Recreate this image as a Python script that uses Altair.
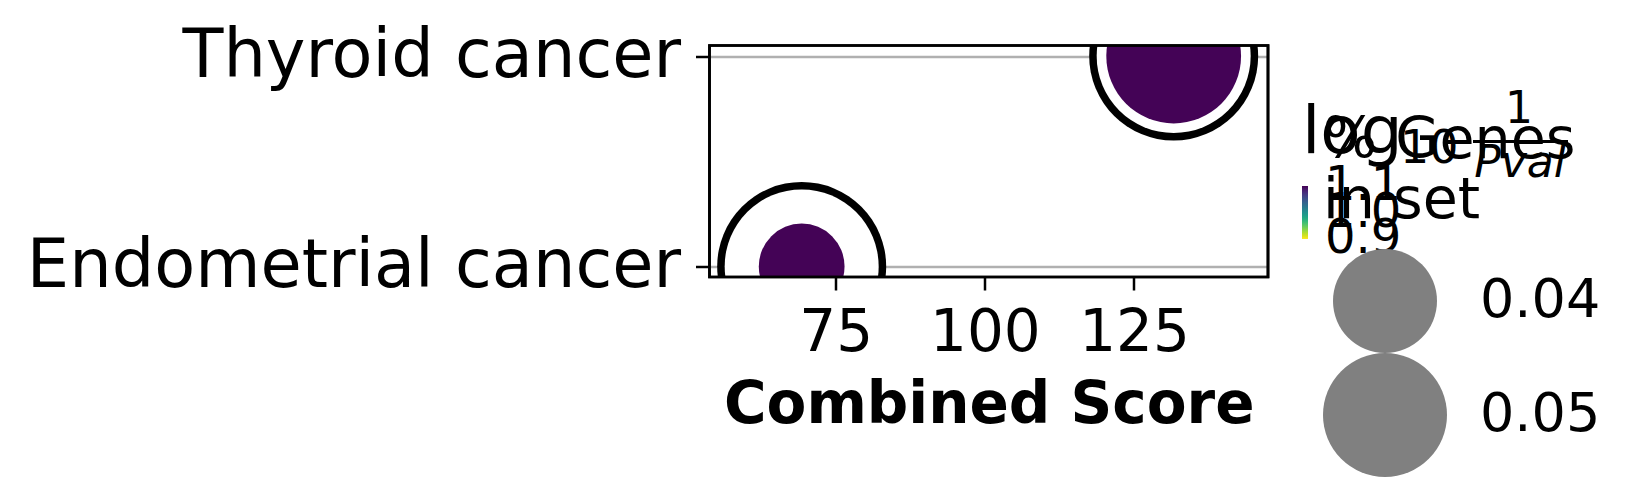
import altair as alt
import pandas as pd

# ---- data ----
terms = ["Thyroid cancer", "Endometrial cancer"]
combined_score = [131.65, 69.3]
pct_genes_in_set = [0.0561, 0.0324]
log10_inv_pval = [1.1, 1.1]

size_legend_values = [0.04, 0.05]
color_legend_values = [0.9, 1.0, 1.1]
x_ticks = [75, 100, 125]

df = pd.DataFrame({
    "Term": terms,
    "Combined Score": combined_score,
    "Genes": pct_genes_in_set,
    "logp": log10_inv_pval,
})

FONT = "DejaVu Sans"
W, H = 558.5, 231.5

x_scale = alt.Scale(domain=[53.85, 147.46], nice=False, zero=False)
y_scale = alt.Scale(type="point", domain=terms, padding=0.05)

x_axis = alt.Axis(values=x_ticks, tickSize=13, tickWidth=2.5, tickColor="black",
                  labelFontSize=58, labelPadding=14.5, labelColor="black",
                  domain=False, grid=False, title="Combined Score",
                  titleFontSize=58, titleFontWeight="bold", titlePadding=14,
                  titleColor="black")
y_axis = alt.Axis(title=None, tickSize=14, tickWidth=2.5, tickColor="black",
                  labelFontSize=67, labelPadding=15, labelColor="black",
                  labelLimit=2000, domain=False, grid=True,
                  gridColor="#b0b0b0", gridWidth=2.5)

base = alt.Chart(df).encode(
    x=alt.X("Combined Score:Q", scale=x_scale, axis=x_axis),
    y=alt.Y("Term:N", scale=y_scale, axis=y_axis, sort=terms),
)

black_ring = base.mark_circle(size=28561, color="black", opacity=1, clip=True)
white_ring = base.mark_circle(size=23716, color="white", opacity=1, clip=True)

dots = base.mark_circle(opacity=1, clip=True).encode(
    size=alt.Size("Genes:Q",
                  scale=alt.Scale(domain=[0.04, 0.05], range=[10816, 15376], zero=False),
                  legend=alt.Legend(title=["% Genes", "in set"], orient="none",
                                    legendX=613.5, legendY=67.5,
                                    values=size_legend_values, format=".2f",
                                    titleFontSize=57, titleFontWeight="normal",
                                    titleLineHeight=60, titleColor="black",
                                    titleAlign="left", titlePadding=19,
                                    titleLimit=2000, labelLimit=2000,
                                    labelFontSize=54, labelColor="black",
                                    labelOffset=33, symbolFillColor="#808080",
                                    symbolStrokeWidth=0, symbolOpacity=1,
                                    symbolType="circle", rowPadding=-8, padding=0)),
    color=alt.Color("logp:Q",
                    scale=alt.Scale(domain=[0.899, 1.101], scheme="viridis",
                                    reverse=True, nice=False, zero=False),
                    legend=alt.Legend(title=None, orient="none",
                                      legendX=592.5, legendY=140.5,
                                      direction="vertical", gradientLength=53,
                                      gradientThickness=6, gradientStrokeWidth=0,
                                      values=color_legend_values, format=".1f",
                                      labelFontSize=48, labelColor="black",
                                      labelOffset=17, labelOverlap=False,
                                      labelLimit=2000, padding=0)),
)

frame = base.mark_rect(filled=False, stroke="black", strokeWidth=2.7).encode(
    x=alt.value(0), x2=alt.value(W), y=alt.value(0), y2=alt.value(H))

one = alt.Chart(df).transform_aggregate(n="count()")


def txt(s, x, y, size, style="normal", align="left"):
    return one.mark_text(text=s, fontSize=size, font=FONT, fontStyle=style,
                         align=align, baseline="alphabetic", color="black").encode(
        x=alt.value(x), y=alt.value(y))


title_log = txt("log", 592.5, 107.5, 66)
title_sub = txt("10", 690.5, 117.5, 46)
title_num = txt("1", 809.5, 77.5, 44, align="center")
title_den = txt("Pval", 810.5, 131.5, 44, style="italic", align="center")
title_bar = one.mark_rule(color="black", strokeWidth=3).encode(
    x=alt.value(763.5), x2=alt.value(858.5), y=alt.value(96))

chart = alt.layer(black_ring, white_ring, dots, frame,
                  title_log, title_sub, title_num, title_den, title_bar).properties(
    width=W, height=H,
    padding={"left": 701.5, "top": 37.5, "right": 370, "bottom": 200},
    autosize=alt.AutoSizeParams(type="none"),
).configure(font=FONT).configure_view(strokeWidth=0)

chart.save("out.html", embed_options={"renderer": "svg", "actions": False})
